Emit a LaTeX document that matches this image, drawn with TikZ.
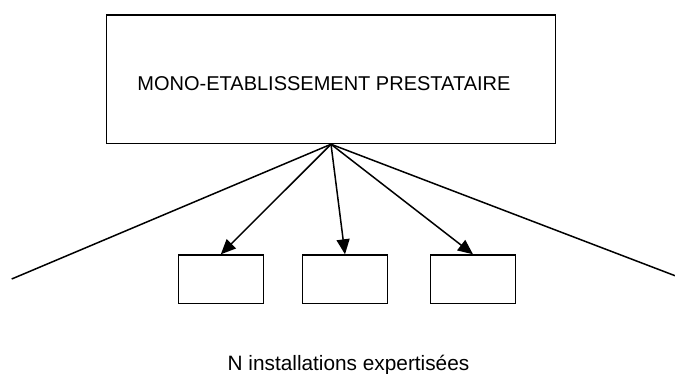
\documentclass[tikz,border=0pt]{standalone}
\usepackage{fontspec}
\setmainfont{Liberation Sans}
\usepackage{tikz}
\usetikzlibrary{arrows.meta}

\tikzset{
  installation/.style={draw,minimum width=85pt,minimum height=48.3pt,inner sep=0pt}
}

\begin{document}
\begin{tikzpicture}[x=1pt,y=-1pt,>={Triangle[length=15pt,width=13pt]},line width=1.5pt]
    \useasboundingbox (0,0) rectangle (675,374);

    % Provider box at the top.
    \node[draw,minimum width=449pt,minimum height=128.5pt,inner sep=0pt]
      (prestataire) at (331,79.25) {};
    \node[anchor=base west,inner sep=0pt,font=\fontsize{20}{24}\selectfont]
      (titre) at (136.7,90.7) {MONO-ETABLISSEMENT PRESTATAIRE};

    % Fan of lines from the bottom of the box.
    \coordinate (gauche) at (11.7,279);
    \coordinate (droite) at (675,275.7);
    \draw[line join=miter] (gauche) -- (prestataire.south) -- (droite);

    % The installations, each reached by an arrow.
    \foreach \i/\x in {1/220.8,2/345,3/473} {
      \node[installation] (inst\i) at (\x,279.2) {};
      \draw[->] (prestataire.south) -- (inst\i.north);
    }

    \node[anchor=base,font=\fontsize{20.8}{25}\selectfont]
      (legende) at (348.5,370) {N installations expertisées};
  \end{tikzpicture}
\end{document}
